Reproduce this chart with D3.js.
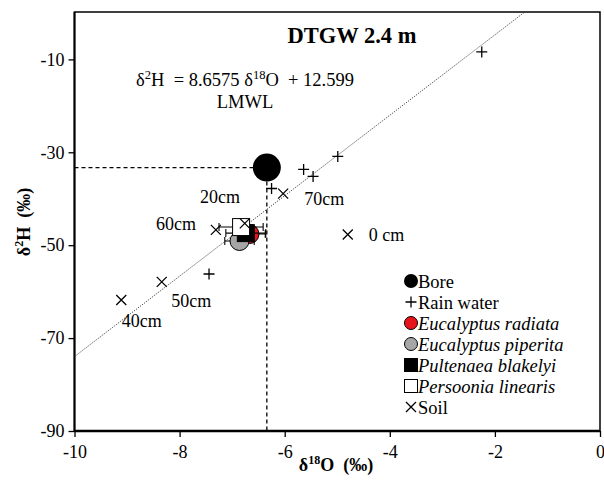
<!DOCTYPE html>
<html>
<head>
<meta charset="utf-8">
<script src="https://cdn.jsdelivr.net/npm/d3@7"></script>
<style>
  html, body { margin: 0; padding: 0; background: #fff; }
  svg text { font-family: "Liberation Serif", "Times New Roman", Times, "DejaVu Serif", serif; fill: #000; }
</style>
</head>
<body>
<svg id="chart" width="604" height="480"></svg>
<script>
// Stable isotope data (δ18O, δ2H in ‰)
const xTicks = [-10, -8, -6, -4, -2, 0];
const yTicks = [-90, -70, -50, -30, -10];

const bore = [{ x: -6.34, y: -33.3 }];

const rainWater = [
  { x: -2.25, y: -8.4 },
  { x: -4.99, y: -30.9 },
  { x: -5.64, y: -33.7 },
  { x: -5.46, y: -35.2 },
  { x: -6.25, y: -37.8 },
  { x: -7.44, y: -56.2 }
];

const soil = [
  { x: -4.80, y: -47.7, depth: "0 cm" },
  { x: -6.76, y: -45.3, depth: "20cm" },
  { x: -9.11, y: -61.8, depth: "40cm" },
  { x: -8.34, y: -57.9, depth: "50cm" },
  { x: -7.31, y: -46.7, depth: "60cm" },
  { x: -6.03, y: -38.9, depth: "70cm" }
];

// Depth label anchors (left edge, baseline) in data units
const depthLabels = [
  { text: "20cm", x: -7.61, y: -40.9 },
  { text: "70cm", x: -5.63, y: -41.4 },
  { text: "60cm", x: -8.45, y: -46.7 },
  { text: "0 cm", x: -4.40, y: -49.05 },
  { text: "50cm", x: -8.16, y: -63.3 },
  { text: "40cm", x: -9.10, y: -67.6 }
];

// Plant xylem water: mean with δ18O standard error
const plantNames = ["Eucalyptus radiata", "Eucalyptus piperita", "Pultenaea blakelyi", "Persoonia linearis"];
const plantX = [-6.67, -6.86, -6.74, -6.83];
const plantY = [-47.6, -49.1, -47.4, -46.1];
const plantXErr = [0.30, 0.28, 0.38, 0.42];
const plantShape = ["circle", "circle", "square", "square"];
const plantFill = ["#e8141c", "#a6a6a6", "#000000", "#ffffff"];

// Local meteoric water line: δ2H = 8.6575 δ18O + 12.599
const lmwlSlope = 8.6575;
const lmwlIntercept = 12.599;

const svg = d3.select("#chart");
const plotLeft = 74.5, plotRight = 600, plotTop = 12, plotBottom = 431;

const x = d3.scaleLinear().domain([-10, 0]).range([plotLeft, plotRight]);
const y = d3.scaleLinear().domain([-90, 0.2]).range([plotBottom, plotTop]);

const serif = '"Liberation Serif", "Times New Roman", Times, "DejaVu Serif", serif';
const nb = "\u00A0";

// Clip for the plot region
svg.append("defs").append("clipPath").attr("id", "plotClip")
  .append("rect").attr("x", plotLeft).attr("y", plotTop)
  .attr("width", plotRight - plotLeft).attr("height", plotBottom - plotTop);

// Frame
svg.append("rect").attr("x", plotLeft).attr("y", plotTop)
  .attr("width", plotRight - plotLeft).attr("height", plotBottom - plotTop)
  .attr("fill", "none").attr("stroke", "#000").attr("stroke-width", 1.5);

// Axes (hyphen-minus tick labels)
const fmt = d => String(d);
const xAxis = svg.append("g").attr("transform", `translate(0,${plotBottom})`)
  .call(d3.axisBottom(x).tickValues(xTicks).tickSize(6).tickPadding(8).tickFormat(fmt));
const yAxis = svg.append("g").attr("transform", `translate(${plotLeft},0)`)
  .call(d3.axisLeft(y).tickValues(yTicks).tickSize(6).tickPadding(4).tickFormat(fmt));
[xAxis, yAxis].forEach(g => {
  g.attr("font-family", serif);
  g.selectAll("text").attr("font-family", serif).attr("font-size", 18).attr("fill", "#000");
  g.selectAll(".tick line").attr("stroke", "#000").attr("stroke-width", 1.3);
});
xAxis.select(".domain").attr("stroke", "#000").attr("stroke-width", 2.6).attr("d", `M${plotLeft},0H${plotRight}`);
yAxis.select(".domain").attr("stroke", "#000").attr("stroke-width", 2).attr("d", `M0,${plotTop}V${plotBottom}`);

const plot = svg.append("g").attr("clip-path", "url(#plotClip)");

// LMWL
const xTop = (0.2 - lmwlIntercept) / lmwlSlope;
plot.append("line")
  .attr("x1", x(-10)).attr("y1", y(lmwlSlope * -10 + lmwlIntercept))
  .attr("x2", x(xTop)).attr("y2", y(0.2))
  .attr("stroke", "#444").attr("stroke-width", 1).attr("stroke-dasharray", "1.2,1.3");

// Dashed guides to the bore value
plot.append("line")
  .attr("x1", x(-10)).attr("y1", y(bore[0].y)).attr("x2", x(bore[0].x)).attr("y2", y(bore[0].y))
  .attr("stroke", "#000").attr("stroke-width", 1.3).attr("stroke-dasharray", "4,3");
plot.append("line")
  .attr("x1", x(bore[0].x)).attr("y1", y(bore[0].y)).attr("x2", x(bore[0].x)).attr("y2", y(-90))
  .attr("stroke", "#000").attr("stroke-width", 1.3).attr("stroke-dasharray", "4,3");

// Bore
plot.selectAll(".bore").data(bore).join("circle")
  .attr("cx", d => x(d.x)).attr("cy", d => y(d.y)).attr("r", 14).attr("fill", "#000");

// Rain water
const plusPath = s => `M${-s},0H${s}M0,${-s}V${s}`;
const crossPath = s => `M${-s},${-s}L${s},${s}M${-s},${s}L${s},${-s}`;
plot.selectAll(".rain").data(rainWater).join("path")
  .attr("transform", d => `translate(${x(d.x)},${y(d.y)})`)
  .attr("d", plusPath(5.5)).attr("stroke", "#000").attr("stroke-width", 1.3).attr("fill", "none");

// Plant error bars and markers
const plants = plantNames.map((n, i) => ({
  name: n, x: plantX[i], y: plantY[i], err: plantXErr[i], shape: plantShape[i], fill: plantFill[i]
}));
plants.forEach(p => {
  const g = plot.append("g");
  g.append("path")
    .attr("d", `M${x(p.x - p.err)},${y(p.y)}H${x(p.x + p.err)}` +
      `M${x(p.x - p.err)},${y(p.y) - 4}V${y(p.y) + 4}` +
      `M${x(p.x + p.err)},${y(p.y) - 4}V${y(p.y) + 4}`)
    .attr("stroke", "#000").attr("stroke-width", 1.1).attr("fill", "none");
  if (p.shape === "circle") {
    g.append("circle").attr("cx", x(p.x)).attr("cy", y(p.y)).attr("r", 9.5)
      .attr("fill", p.fill).attr("stroke", "#000").attr("stroke-width", 1);
  } else {
    g.append("rect").attr("x", x(p.x) - 8.5).attr("y", y(p.y) - 8.5).attr("width", 17).attr("height", 17)
      .attr("fill", p.fill).attr("stroke", "#000").attr("stroke-width", 1);
  }
});

// Soil
plot.selectAll(".soil").data(soil).join("path")
  .attr("transform", d => `translate(${x(d.x)},${y(d.y)})`)
  .attr("d", crossPath(5)).attr("stroke", "#000").attr("stroke-width", 1.3).attr("fill", "none");

// Depth labels
svg.selectAll(".depth").data(depthLabels).join("text")
  .attr("x", d => x(d.x)).attr("y", d => y(d.y))
  .attr("font-family", serif).attr("font-size", 18).text(d => d.text);

// Title
svg.append("text").attr("x", 352).attr("y", 43).attr("text-anchor", "middle").attr("font-family", serif)
  .attr("font-size", 22.5).attr("font-weight", "bold").text("DTGW 2.4 m");

// LMWL equation
const eq = svg.append("text").attr("x", 245).attr("y", 86).attr("text-anchor", "middle")
  .attr("font-family", serif).attr("font-size", 18.5);
eq.append("tspan").text("δ");
eq.append("tspan").attr("font-size", 12.5).attr("dy", -7).text("2");
eq.append("tspan").attr("dy", 7).text(`H${nb}${nb}= 8.6575 δ`);
eq.append("tspan").attr("font-size", 12.5).attr("dy", -7).text("18");
eq.append("tspan").attr("dy", 7).text(`O${nb}${nb}+ 12.599`);
svg.append("text").attr("x", 245).attr("y", 107.5).attr("text-anchor", "middle")
  .attr("font-family", serif).attr("font-size", 18.5).text("LMWL");

// Axis titles
const xt = svg.append("text").attr("x", 336).attr("y", 471).attr("text-anchor", "middle")
  .attr("font-family", serif).attr("font-size", 18).attr("font-weight", "bold");
xt.append("tspan").text("δ");
xt.append("tspan").attr("font-size", 12).attr("dy", -7).text("18");
xt.append("tspan").attr("dy", 7).text(`O${nb}${nb}(‰)`);

const yt = svg.append("text").attr("transform", "translate(30,222) rotate(-90)").attr("text-anchor", "middle")
  .attr("font-family", serif).attr("font-size", 18).attr("font-weight", "bold");
yt.append("tspan").text("δ");
yt.append("tspan").attr("font-size", 12).attr("dy", -7).text("2");
yt.append("tspan").attr("dy", 7).text(`H${nb}${nb}(‰)`);

// Legend
const legendItems = [
  { label: "Bore", kind: "bigcircle", fill: "#000", italic: false },
  { label: "Rain water", kind: "plus", italic: false },
  ...plants.map(p => ({ label: p.name, kind: p.shape, fill: p.fill, italic: true })),
  { label: "Soil", kind: "cross", italic: false }
];
const legend = svg.append("g").attr("transform", "translate(411,281)");
legendItems.forEach((it, i) => {
  const g = legend.append("g").attr("transform", `translate(0,${i * 21})`);
  if (it.kind === "bigcircle") {
    g.append("circle").attr("r", 7).attr("fill", "#000");
  } else if (it.kind === "circle") {
    g.append("circle").attr("r", 6.5).attr("fill", it.fill).attr("stroke", "#000").attr("stroke-width", 1);
  } else if (it.kind === "square") {
    g.append("rect").attr("x", -6.5).attr("y", -6.5).attr("width", 13).attr("height", 13)
      .attr("fill", it.fill).attr("stroke", "#000").attr("stroke-width", 1);
  } else if (it.kind === "plus") {
    g.append("path").attr("d", plusPath(5.5)).attr("stroke", "#000").attr("stroke-width", 1.3);
  } else {
    g.append("path").attr("d", crossPath(5)).attr("stroke", "#000").attr("stroke-width", 1.3);
  }
  g.append("text").attr("x", 7).attr("y", 6.5).attr("font-family", serif).attr("font-size", 18.5)
    .attr("font-style", it.italic ? "italic" : "normal").text(it.label);
});
</script>
</body>
</html>
